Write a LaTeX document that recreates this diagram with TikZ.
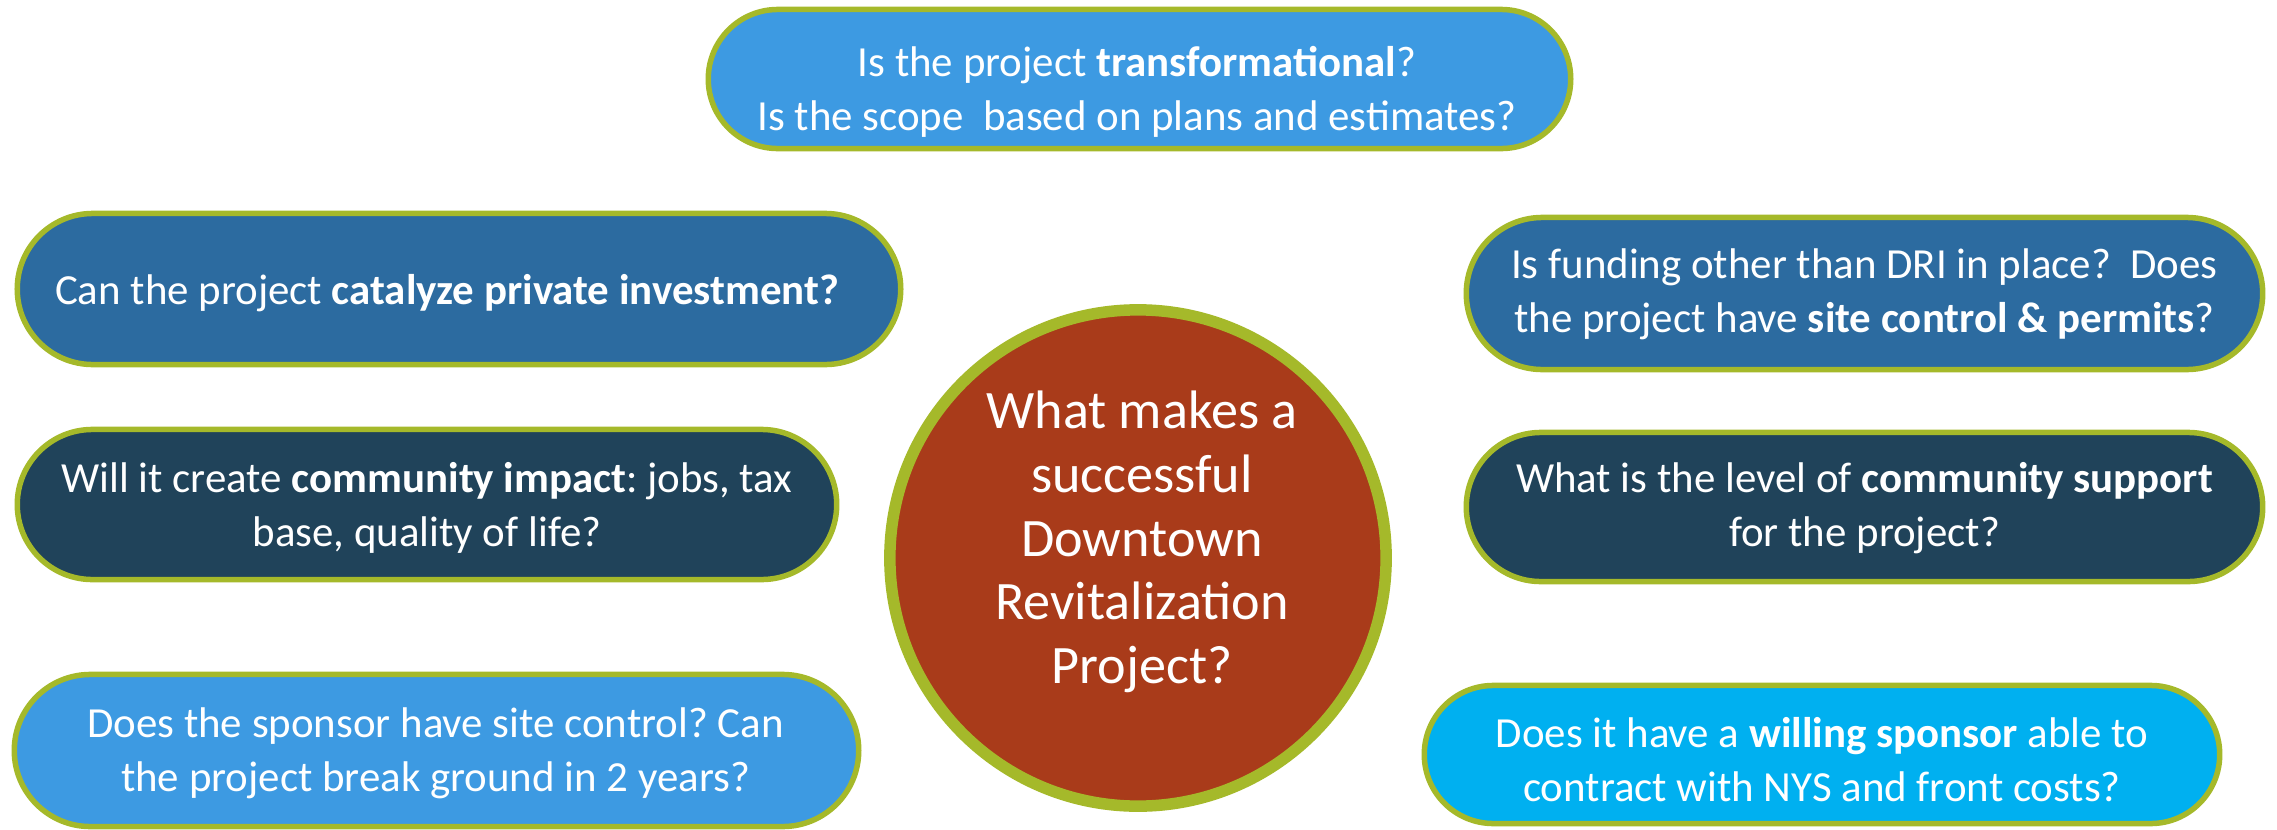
\documentclass[tikz,border=0pt]{standalone}
\usepackage{fontspec}
\usetikzlibrary{shapes.misc}
\setmainfont{Carlito}
\frenchspacing
\definecolor{skyblue}{HTML}{3D9AE2}
\definecolor{midblue}{HTML}{2C6BA0}
\definecolor{navy}{HTML}{20435A}
\definecolor{brightcyan}{HTML}{00B0F0}
\definecolor{rust}{HTML}{A93B1A}
\definecolor{leafgreen}{HTML}{A5B92A}
\begin{document}
\begin{tikzpicture}[x=0.01cm,y=-0.01cm,
  pill/.style={rounded rectangle, draw=leafgreen, line width=0.055cm,
    inner sep=0pt},
  pilltext/.style={text=white, align=center, inner sep=0pt,
    font=\fontsize{12.2}{15.4}\selectfont},
  hub/.style={circle, draw=leafgreen, line width=0.115cm, fill=rust,
    inner sep=0pt},
  hubtext/.style={text=white, align=center, inner sep=0pt,
    font=\fontsize{15.4}{18.1}\selectfont}]
\useasboundingbox (0,0) rectangle (2277,830);

% question boxes around the hub
\node[pill, fill=skyblue, minimum width=8.62cm, minimum height=1.39cm] (transform) at (1139.5,79) {};
\node[pilltext] (transform-q) at (1137,92)
  {Is the project \textbf{transformational}?\\Is the scope\ \ based on plans and estimates?};

\node[pill, fill=midblue, minimum width=8.83cm, minimum height=1.51cm] (catalyze) at (459,289) {};
\node[pilltext] (catalyze-q) at (447,293)
  {Can the project \textbf{catalyze private investment?}};

\node[pill, fill=navy, minimum width=8.19cm, minimum height=1.50cm] (impact) at (427,504.5) {};
\node[pilltext] (impact-q) at (427,508)
  {Will it create \textbf{community impact}: jobs, tax\\base, quality of life?};

\node[pill, fill=skyblue, minimum width=8.44cm, minimum height=1.52cm] (sitecontrol) at (436.5,750.5) {};
\node[pilltext] (sitecontrol-q) at (435.5,753.5)
  {Does the sponsor have site control? Can\\the project break ground in 2 years?};

\node[pill, fill=midblue, minimum width=7.96cm, minimum height=1.52cm] (funding) at (1864.5,293.5) {};
\node[pilltext] (funding-q) at (1864.5,294.5)
  {Is funding other than DRI in place?\ \ Does\\the project have \textbf{site control \& permits}?};

\node[pill, fill=navy, minimum width=7.96cm, minimum height=1.49cm] (support) at (1864.5,507) {};
\node[pilltext] (support-q) at (1864.5,508.5)
  {What is the level of \textbf{community support}\\for the project?};

\node[pill, fill=brightcyan, minimum width=7.95cm, minimum height=1.38cm] (sponsor) at (1822,754.5) {};
\node[pilltext] (sponsor-q) at (1822,759.5)
  {Does it have a \textbf{willing sponsor} able to\\contract with NYS and front costs?};

% central question
\node[hub, minimum size=4.96cm] (center) at (1138,558) {};
\node[hubtext] (question) at (1142,542)
  {What makes a\\successful\\Downtown\\Revitalization\\Project?};
\end{tikzpicture}
\end{document}
